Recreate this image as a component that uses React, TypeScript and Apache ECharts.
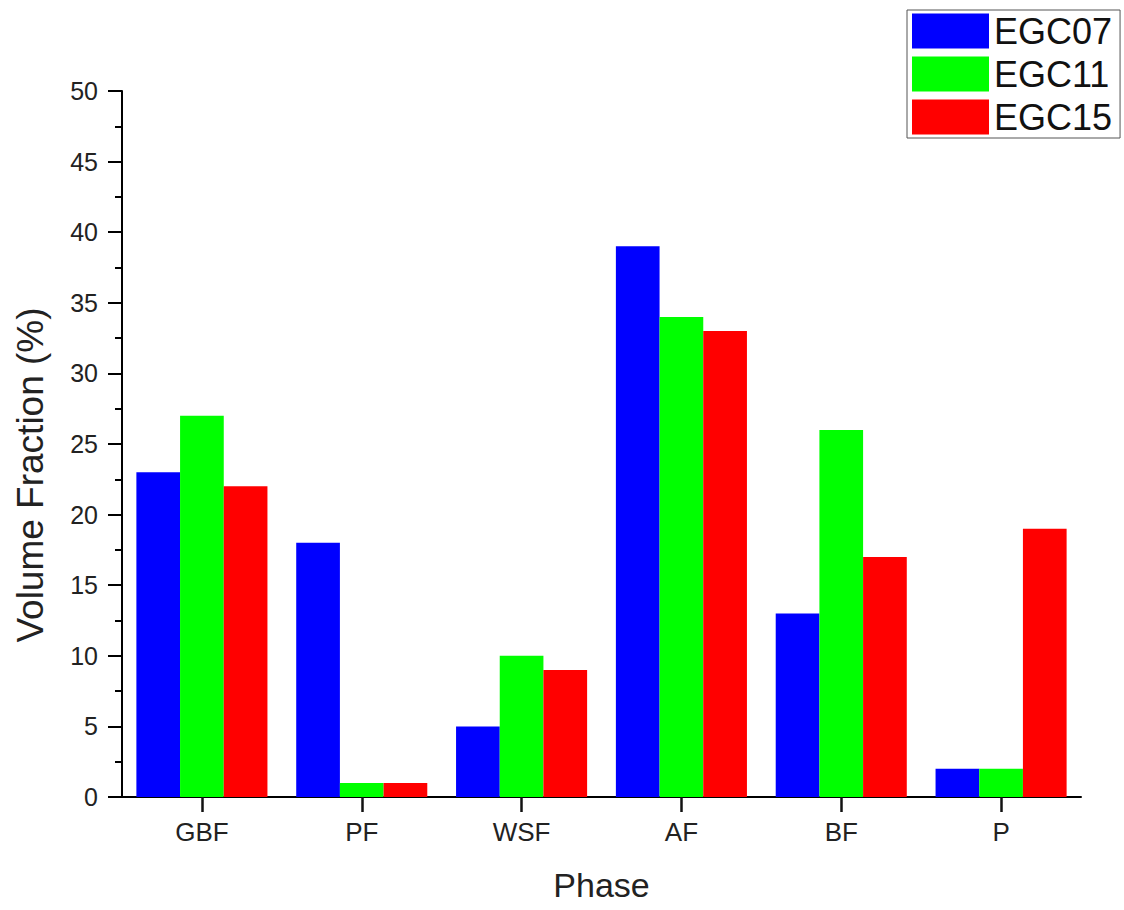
import React, { useEffect, useRef } from "react";
import * as echarts from "echarts";

const categories = ["GBF", "PF", "WSF", "AF", "BF", "P"];
const egc07 = [23, 18, 5, 39, 13, 2];
const egc11 = [27, 1, 10, 34, 26, 2];
const egc15 = [22, 1, 9, 33, 17, 19];
const seriesNames = ["EGC07", "EGC11", "EGC15"];
const colors = ["#0000ff", "#00ff00", "#ff0000"];

const FONT = "Liberation Sans, Arial, sans-serif";

export default function App() {
  const ref = useRef<HTMLDivElement>(null);
  useEffect(() => {
    if (!ref.current) return;
    const chart = echarts.init(ref.current, undefined, { renderer: "svg" });
    chart.setOption({
      animation: false,
      backgroundColor: "#fff",
      textStyle: { fontFamily: FONT },
      grid: { left: 122, right: 43, top: 91, bottom: 113 },
      legend: {
        data: seriesNames,
        orient: "vertical",
        left: 907,
        top: 10,
        icon: "rect",
        itemWidth: 77,
        itemHeight: 35,
        itemGap: 7,
        padding: [3, 8, 3, 5],
        borderColor: "#555",
        borderWidth: 1,
        textStyle: { fontSize: 36, color: "#111", fontFamily: FONT },
        itemStyle: { borderWidth: 0 },
      },
      xAxis: {
        type: "category",
        data: categories,
        name: "Phase",
        nameLocation: "middle",
        nameGap: 71,
        nameTextStyle: { fontSize: 34, color: "#222", fontFamily: FONT },
        axisLine: { show: true, lineStyle: { color: "#000", width: 2 } },
        axisTick: { show: true, alignWithLabel: true, length: 15, lineStyle: { color: "#111", width: 2.5 } },
        axisLabel: { fontSize: 26, color: "#222", margin: 22, fontFamily: FONT },
        splitLine: { show: false },
      },
      yAxis: {
        type: "value",
        min: 0,
        max: 50,
        interval: 5,
        name: "Volume Fraction (%)",
        nameLocation: "middle",
        nameGap: 73,
        nameTextStyle: { fontSize: 37, color: "#222", fontFamily: FONT, padding: [0, 62, 0, 0] },
        axisLine: { show: true, lineStyle: { color: "#000", width: 2 } },
        axisTick: { show: true, length: 14, lineStyle: { color: "#000", width: 2 } },
        minorTick: { show: true, splitNumber: 2, length: 7, lineStyle: { color: "#000", width: 2 } },
        axisLabel: { fontSize: 25, color: "#222", margin: 24, fontFamily: FONT },
        splitLine: { show: false },
      },
      series: [egc07, egc11, egc15].map((d, i) => ({
        name: seriesNames[i],
        type: "bar",
        data: d,
        barGap: "0%",
        barCategoryGap: "18%",
        itemStyle: { color: colors[i] },
      })),
    });
    return () => chart.dispose();
  }, []);
  return <div ref={ref} style={{ width: 1124, height: 910, position: "absolute", left: 0, top: 0 }} />;
}
